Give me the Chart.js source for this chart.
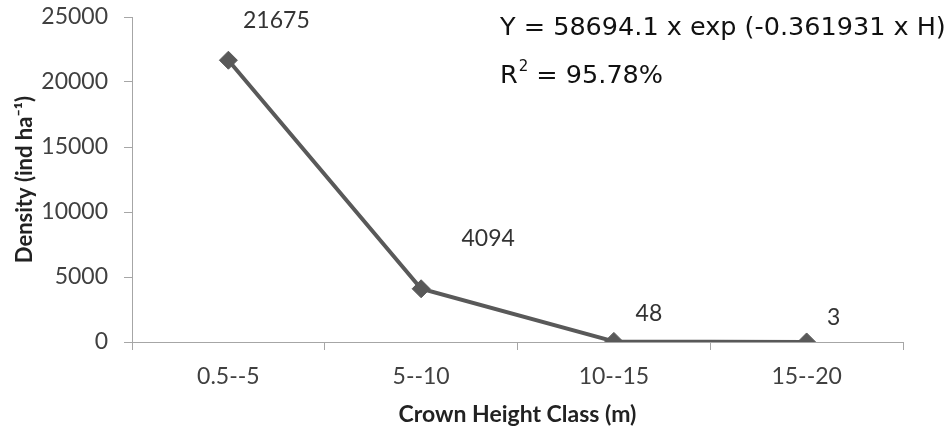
<!DOCTYPE html>
<html>
<head>
<meta charset="utf-8">
<script src="https://cdn.jsdelivr.net/npm/chart.js@4.4.1/dist/chart.umd.min.js"></script>
<style>
  html, body { margin: 0; padding: 0; background: #ffffff; }
  #wrap { width: 951px; height: 429px; position: relative; }
</style>
</head>
<body>
<div id="wrap"><canvas id="c" width="951" height="429"></canvas></div>
<script>
// ---- data ----
const categories = ['0.5--5', '5--10', '10--15', '15--20'];
const densityValues = [21675, 4094, 48, 3];
const yTickValues = [0, 5000, 10000, 15000, 20000, 25000];
const equationLine1 = 'Y = 58694.1 x exp (-0.361931 x H)';
const equationLine2Main = 'R';
const equationLine2Sup = '2';
const equationLine2Rest = ' = 95.78%';
const xTitle = 'Crown Height Class (m)';
const yTitle = 'Density (ind ha\u207B\u00B9)';

// label placement (style only, pixel offsets of each data label from its point)
const labelOffsets = [[48, -40], [67, -50], [35, -28], [27, -24]];

const FONT = 'Lato, "Open Sans", sans-serif';
const EQFONT = '"DejaVu Sans", Verdana, sans-serif';

const dataLabelPlugin = {
  id: 'dataLabels',
  afterDatasetsDraw(chart) {
    const ctx = chart.ctx;
    const meta = chart.getDatasetMeta(0);
    ctx.save();
    ctx.font = '23px ' + FONT;
    ctx.fillStyle = '#333333';
    ctx.textAlign = 'center';
    ctx.textBaseline = 'middle';
    meta.data.forEach((pt, i) => {
      const off = labelOffsets[i];
      ctx.fillText(String(densityValues[i]), pt.x + off[0], pt.y + off[1]);
    });
    ctx.restore();
  }
};

const equationPlugin = {
  id: 'equation',
  afterDraw(chart) {
    const ctx = chart.ctx;
    ctx.save();
    ctx.fillStyle = '#111111';
    ctx.textBaseline = 'alphabetic';
    ctx.textAlign = 'left';
    ctx.font = '25.5px ' + EQFONT;
    ctx.fillText(equationLine1, 500, 35);
    let x = 500;
    ctx.fillText(equationLine2Main, x, 83);
    x += ctx.measureText(equationLine2Main).width;
    ctx.font = '15px ' + EQFONT;
    ctx.fillText(equationLine2Sup, x + 1, 71);
    x += ctx.measureText(equationLine2Sup).width + 1;
    ctx.font = '25.5px ' + EQFONT;
    ctx.fillText(equationLine2Rest, x, 83);
    ctx.restore();
  }
};

new Chart(document.getElementById('c'), {
  type: 'line',
  data: {
    labels: categories,
    datasets: [{
      data: densityValues,
      borderColor: '#595959',
      backgroundColor: '#595959',
      borderWidth: 4,
      pointStyle: 'rectRot',
      pointRadius: 9,
      pointBorderWidth: 1,
      pointBackgroundColor: '#595959',
      pointBorderColor: '#595959',
      tension: 0,
      fill: false
    }]
  },
  options: {
    responsive: false,
    animation: false,
    devicePixelRatio: 1,
    layout: { padding: { left: 0, right: 48, top: 17, bottom: 0 } },
    plugins: { legend: { display: false }, tooltip: { enabled: false } },
    scales: {
      x: {
        offset: true,
        grid: { offset: true, drawOnChartArea: false, drawTicks: true, tickLength: 8, color: '#a6a6a6' },
        border: { display: true, color: '#a6a6a6', width: 1, dash: [2, 1] },
        ticks: { font: { family: FONT, size: 23 }, color: '#404040', padding: 13, maxRotation: 0 },
        title: { display: true, text: xTitle, font: { family: FONT, size: 23, weight: 'bold' }, color: '#222222', padding: { top: 0, bottom: 1 } },
        afterFit(scale) { scale.height = 87; scale.paddingLeft = 0; scale.paddingRight = 0; }
      },
      y: {
        min: 0,
        max: 25000,
        afterBuildTicks(scale) { scale.ticks = yTickValues.map(v => ({ value: v })); },
        grid: { drawOnChartArea: false, drawTicks: true, tickLength: 8, color: '#a6a6a6' },
        border: { display: true, color: '#a6a6a6', width: 1, dash: [2, 1] },
        ticks: { font: { family: FONT, size: 23 }, color: '#404040', padding: 16, callback: (v) => String(v) },
        title: { display: true, text: yTitle, font: { family: FONT, size: 22, weight: 'bold' }, color: '#222222', padding: { top: 12, bottom: 0 } },
        afterFit(scale) { scale.width = 132; scale.paddingTop = 0; scale.paddingBottom = 0; }
      }
    }
  },
  plugins: [dataLabelPlugin, equationPlugin]
});
</script>
</body>
</html>
